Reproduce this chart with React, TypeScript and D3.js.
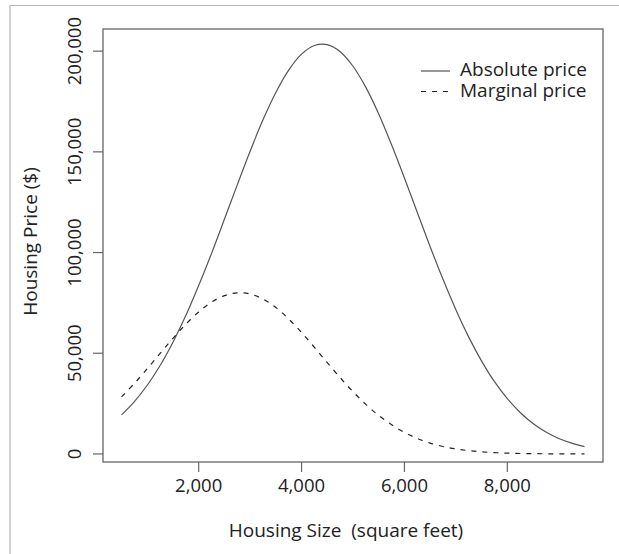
import React from "react";
import * as d3 from "d3";

// Housing size (square feet) at which both price curves are sampled
const sizes = [
  500, 750, 1000, 1250, 1500, 1750, 2000, 2250, 2500, 2750, 3000, 3250, 3500,
  3750, 4000, 4250, 4500, 4750, 5000, 5250, 5500, 5750, 6000, 6250, 6500, 6750,
  7000, 7250, 7500, 7750, 8000, 8250, 8500, 8750, 9000, 9250, 9500,
];

// Absolute housing price ($)
const absolutePrice = [
  19400, 26000, 34100, 43900, 55500, 68700, 83600, 99600, 116500, 133600,
  150300, 165900, 179500, 190600, 198500, 202800, 203200, 199700, 192500,
  182000, 168800, 153500, 137000, 119900, 102900, 86700, 71600, 58000, 46100,
  35900, 27500, 20600, 15100, 10900, 7700, 5400, 3650,
];

// Marginal housing price ($)
const marginalPrice = [
  28300, 35000, 42300, 49900, 57400, 64400, 70500, 75400, 78600, 80000, 79400,
  76900, 72700, 67000, 60300, 52900, 45300, 37900, 30900, 24600, 19100, 14500,
  10700, 7700, 5400, 3700, 2500, 1630, 1040, 650, 390, 230, 130, 80, 40, 20, 10,
];

const xTicks = [2000, 4000, 6000, 8000];
const yTicks = [0, 50000, 100000, 150000, 200000];

const legendItems = [
  { label: "Absolute price", dash: "none" },
  { label: "Marginal price", dash: "5,6" },
];

const W = 619;
const H = 554;
const box = { left: 103, right: 603, top: 29, bottom: 462 };
const font = "'Open Sans', 'Noto Sans', sans-serif";
const fmt = d3.format(",");

export default function App() {
  const x = d3.scaleLinear().domain([140, 9860]).range([box.left, box.right]);
  const y = d3.scaleLinear().domain([-4000, 211000]).range([box.bottom, box.top]);

  const line = (vals: number[]) =>
    d3
      .line<number>()
      .x((_, i) => x(sizes[i]))
      .y((v) => y(v))
      .curve(d3.curveCatmullRom)(vals) as string;

  const midY = (box.top + box.bottom) / 2;

  return (
    <svg
      width={W}
      height={H}
      style={{ position: "absolute", left: 0, top: 0, background: "#fff" }}
      fontFamily={font}
    >
      {/* outer frame */}
      <line x1={10} y1={5.5} x2={W} y2={5.5} stroke="#b3b3b3" strokeWidth={1.2} />
      <line x1={10} y1={5.5} x2={10} y2={H} stroke="#b3b3b3" strokeWidth={1.2} />

      {/* plot box */}
      <rect
        x={box.left}
        y={box.top}
        width={box.right - box.left}
        height={box.bottom - box.top}
        fill="none"
        stroke="#666"
        strokeWidth={1.3}
      />

      {/* x axis */}
      {xTicks.map((t) => (
        <g key={t}>
          <line x1={x(t)} x2={x(t)} y1={box.bottom} y2={box.bottom + 10} stroke="#666" strokeWidth={1.2} />
          <text x={x(t)} y={492} textAnchor="middle" fontSize={18.5} fill="#222">
            {fmt(t)}
          </text>
        </g>
      ))}
      <text x={346} y={537} textAnchor="middle" fontSize={19} fill="#222" style={{ whiteSpace: "pre" }}>
        {"Housing Size  (square feet)"}
      </text>

      {/* y axis */}
      {yTicks.map((t) => (
        <g key={t}>
          <line x1={box.left - 10} x2={box.left} y1={y(t)} y2={y(t)} stroke="#666" strokeWidth={1.2} />
          <text
            transform={`translate(81,${y(t)}) rotate(-90)`}
            textAnchor="middle"
            fontSize={18.5}
            fill="#222"
          >
            {fmt(t)}
          </text>
        </g>
      ))}
      <text
        transform={`translate(37,${midY - 4}) rotate(-90)`}
        textAnchor="middle"
        fontSize={19}
        fill="#222"
      >
        Housing Price ($)
      </text>

      {/* curves */}
      <path d={line(absolutePrice)} fill="none" stroke="#555" strokeWidth={1.2} />
      <path d={line(marginalPrice)} fill="none" stroke="#222" strokeWidth={1.2} strokeDasharray="5,6" />

      {/* legend */}
      {legendItems.map((item, i) => (
        <g key={item.label} transform={`translate(0,${71 + i * 20.5})`}>
          <line x1={421} x2={450} y1={0} y2={0} stroke={i === 0 ? "#555" : "#222"} strokeWidth={1.2} strokeDasharray={item.dash} />
          <text x={460} y={5} fontSize={19} fill="#222">
            {item.label}
          </text>
        </g>
      ))}
    </svg>
  );
}
